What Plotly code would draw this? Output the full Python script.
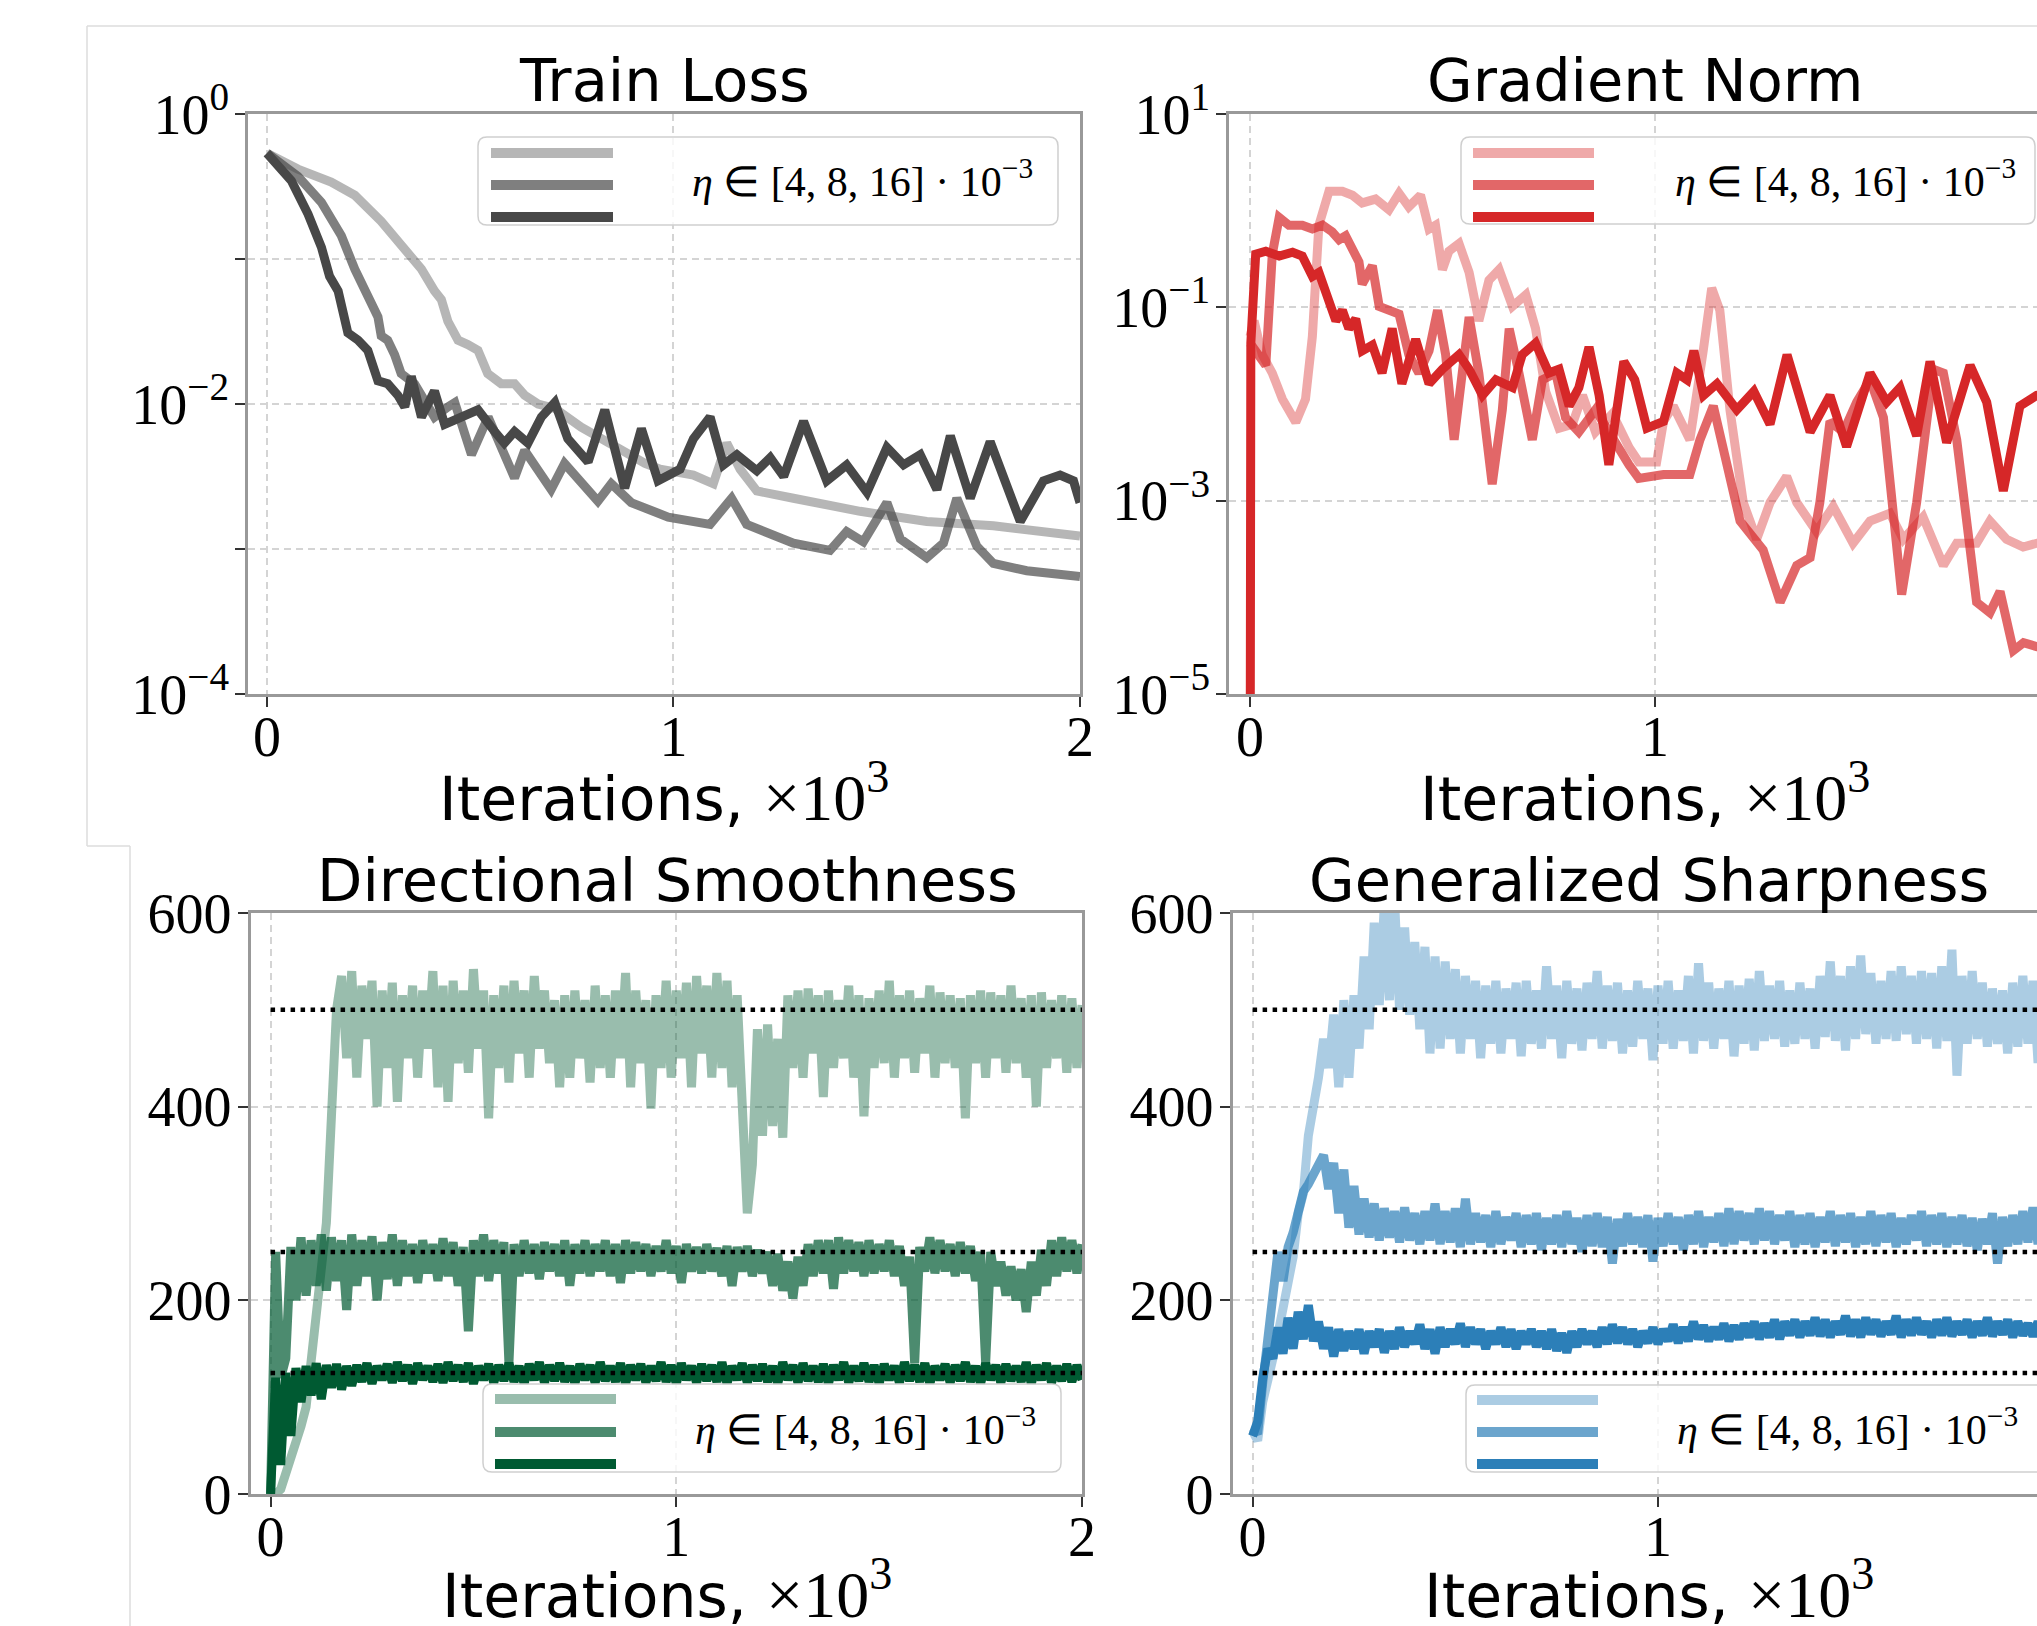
import plotly.graph_objects as go

W, H = 2037, 1626

# ---------------------------------------------------------------- data
ETA_LABEL = "<i>η</i> ∈ [4, 8, 16] · 10<sup>−3</sup>"
TITLES = ["Train Loss", "Gradient Norm", "Directional Smoothness", "Generalized Sharpness"]
X_TICKS = [0, 1, 2]
X_TICK_TEXT = ["0", "1", "2"]

# Train loss (values read as log10 of the loss), x in thousands of iterations
tl_x_eta4 = [0, 0.076, 0.158, 0.216, 0.281, 0.339, 0.380, 0.412, 0.429, 0.445, 0.470, 0.494, 0.519, 0.543,
             0.576, 0.609, 0.634, 0.667, 0.708, 0.773, 0.840, 0.888, 0.930, 0.967, 1.049, 1.098, 1.131, 1.164,
             1.205, 1.295, 1.459, 1.623, 1.787, 2.0]
tl_log_eta4 = [-0.27, -0.38, -0.47, -0.56, -0.74, -0.94, -1.07, -1.22, -1.28, -1.43, -1.56, -1.59, -1.63, -1.79,
               -1.86, -1.86, -1.94, -2.00, -2.03, -2.16, -2.27, -2.35, -2.41, -2.45, -2.49, -2.55, -2.27, -2.45,
               -2.60, -2.65, -2.74, -2.81, -2.84, -2.91]
tl_x_eta8 = [0, 0.076, 0.134, 0.183, 0.216, 0.248, 0.273, 0.281, 0.297, 0.314, 0.330, 0.363, 0.412, 0.445,
             0.462, 0.503, 0.544, 0.609, 0.634, 0.699, 0.732, 0.814, 0.847, 0.896, 0.987, 1.090, 1.143, 1.180,
             1.295, 1.385, 1.426, 1.467, 1.525, 1.558, 1.623, 1.664, 1.697, 1.746, 1.787, 1.869, 2.0]
tl_log_eta8 = [-0.27, -0.43, -0.61, -0.84, -1.07, -1.25, -1.40, -1.53, -1.56, -1.66, -1.79, -1.86, -2.09, -2.02,
               -1.99, -2.35, -2.09, -2.51, -2.32, -2.59, -2.41, -2.67, -2.55, -2.68, -2.78, -2.83, -2.65, -2.83,
               -2.96, -3.01, -2.88, -2.95, -2.68, -2.93, -3.06, -2.96, -2.65, -2.98, -3.10, -3.15, -3.19]
tl_x_eta16 = [0, 0.060, 0.101, 0.134, 0.154, 0.175, 0.199, 0.224, 0.248, 0.273, 0.297, 0.322, 0.339, 0.355,
              0.380, 0.412, 0.437, 0.478, 0.519, 0.560, 0.584, 0.609, 0.642, 0.675, 0.708, 0.740, 0.790, 0.831,
              0.880, 0.921, 0.962, 1.016, 1.049, 1.090, 1.123, 1.156, 1.205, 1.238, 1.271, 1.320, 1.377, 1.426,
              1.476, 1.525, 1.566, 1.607, 1.648, 1.681, 1.730, 1.779, 1.853, 1.910, 1.951, 1.984, 2.0]
tl_log_eta16 = [-0.27, -0.46, -0.69, -0.92, -1.12, -1.22, -1.51, -1.56, -1.63, -1.84, -1.86, -1.94, -2.02, -1.81,
                -2.09, -1.91, -2.14, -2.09, -2.04, -2.19, -2.27, -2.19, -2.27, -2.09, -1.99, -2.24, -2.40, -2.04,
                -2.58, -2.17, -2.53, -2.45, -2.24, -2.09, -2.42, -2.35, -2.46, -2.37, -2.50, -2.12, -2.53, -2.42,
                -2.61, -2.30, -2.42, -2.35, -2.59, -2.22, -2.65, -2.26, -2.81, -2.53, -2.49, -2.53, -2.68]

# Gradient norm (log10 values)
gn_x_eta4 = [0, 0.010, 0.030, 0.055, 0.080, 0.113, 0.137, 0.154, 0.170, 0.195, 0.228, 0.253, 0.277, 0.310,
             0.343, 0.368, 0.392, 0.421, 0.442, 0.458, 0.475, 0.491, 0.516, 0.541, 0.565, 0.590, 0.615, 0.648,
             0.681, 0.705, 0.730, 0.763, 0.796, 0.821, 0.853, 0.895, 0.936, 0.960, 1.004, 1.021, 1.045, 1.086,
             1.119, 1.140, 1.160, 1.185, 1.218, 1.251, 1.284, 1.325, 1.350, 1.399, 1.440, 1.489, 1.531, 1.580,
             1.613, 1.662, 1.712, 1.745, 1.794, 1.827, 1.868, 1.909, 1.943, 2.0]
gn_log_eta4 = [-1.30, -1.14, -1.49, -1.68, -1.95, -2.19, -1.95, -1.30, -0.15, 0.20, 0.20, 0.16, 0.08, 0.12,
               0.01, 0.18, 0.04, 0.16, -0.19, -0.15, -0.61, -0.42, -0.34, -0.64, -1.14, -0.72, -0.61, -0.99,
               -0.87, -1.22, -1.87, -2.25, -2.21, -1.91, -2.29, -2.10, -2.45, -2.60, -2.60, -2.18, -2.02, -2.37,
               -1.45, -0.80, -1.03, -2.06, -3.02, -3.40, -3.02, -2.75, -3.02, -3.32, -3.06, -3.44, -3.21, -3.13,
               -3.40, -3.17, -3.67, -3.44, -3.44, -3.21, -3.40, -3.48, -3.44, -3.45]
gn_x_eta8 = [0, 0.014, 0.039, 0.055, 0.072, 0.096, 0.129, 0.154, 0.179, 0.203, 0.220, 0.236, 0.253, 0.269,
             0.277, 0.302, 0.319, 0.343, 0.368, 0.392, 0.417, 0.442, 0.463, 0.483, 0.504, 0.524, 0.541, 0.565,
             0.598, 0.623, 0.640, 0.664, 0.697, 0.722, 0.755, 0.779, 0.812, 0.853, 0.895, 0.936, 0.960, 1.021,
             1.086, 1.111, 1.144, 1.177, 1.210, 1.267, 1.309, 1.350, 1.383, 1.407, 1.432, 1.465, 1.498, 1.531,
             1.564, 1.609, 1.646, 1.687, 1.712, 1.745, 1.794, 1.827, 1.852, 1.885, 1.910, 1.943, 2.0]
gn_log_eta8 = [-1.37, -1.45, -1.60, -0.45, -0.07, -0.15, -0.15, -0.19, -0.15, -0.22, -0.30, -0.26, -0.42, -0.53,
               -0.76, -0.57, -0.99, -1.03, -1.07, -1.49, -1.68, -1.45, -1.03, -1.49, -2.37, -1.68, -1.10, -1.68,
               -2.83, -2.06, -1.22, -1.68, -2.37, -1.75, -1.68, -2.14, -2.29, -2.06, -2.37, -2.63, -2.77, -2.73,
               -2.73, -2.37, -2.02, -2.67, -3.21, -3.51, -4.05, -3.67, -3.59, -3.02, -2.18, -2.29, -1.98, -1.75,
               -2.14, -3.97, -3.02, -1.64, -1.68, -2.37, -4.05, -4.16, -3.94, -4.55, -4.47, -4.51, -4.50]
gn_x_eta16 = [0, 0.002, 0.014, 0.039, 0.072, 0.105, 0.129, 0.154, 0.170, 0.195, 0.212, 0.228, 0.244, 0.261,
              0.277, 0.302, 0.326, 0.351, 0.375, 0.409, 0.442, 0.475, 0.516, 0.541, 0.574, 0.607, 0.648, 0.672,
              0.705, 0.738, 0.763, 0.788, 0.812, 0.837, 0.862, 0.886, 0.923, 0.950, 0.980, 1.021, 1.054, 1.079,
              1.096, 1.120, 1.153, 1.202, 1.244, 1.284, 1.326, 1.383, 1.432, 1.473, 1.531, 1.572, 1.605, 1.646,
              1.679, 1.720, 1.778, 1.819, 1.860, 1.901, 1.943, 2.0]
gn_log_eta16 = [-7.0, -1.37, -0.45, -0.42, -0.47, -0.43, -0.47, -0.68, -0.64, -0.95, -1.14, -1.03, -1.22, -1.12,
                -1.45, -1.39, -1.68, -1.22, -1.79, -1.33, -1.79, -1.64, -1.49, -1.64, -1.91, -1.75, -1.83, -1.49,
                -1.37, -1.68, -1.64, -2.02, -1.83, -1.41, -1.91, -2.63, -1.56, -1.75, -2.25, -2.18, -1.68, -1.75,
                -1.45, -1.91, -1.79, -2.06, -1.87, -2.21, -1.49, -2.29, -1.91, -2.44, -1.68, -1.98, -1.83, -2.33,
                -1.56, -2.40, -1.60, -1.98, -2.90, -2.02, -1.91, -1.85]

# Noisy curves sampled every 12.5 iterations (0.0125 x 10^3), 161 samples
STEP = 0.0125
ds_eta4 = [0, 0, 5, 20, 35, 50, 70, 90, 135, 175,
           220, 280, 390, 500, 535, 450, 540, 430, 525, 470,
           530, 400, 520, 440, 528, 405, 515, 450, 525, 430,
           520, 460, 540, 420, 525, 405, 530, 445, 520, 435,
           542, 460, 520, 388, 515, 440, 525, 425, 530, 455,
           520, 430, 535, 460, 520, 445, 510, 420, 515, 430,
           520, 450, 510, 425, 525, 440, 515, 430, 520, 450,
           538, 420, 520, 445, 510, 398, 515, 440, 530, 430,
           520, 450, 528, 420, 535, 455, 525, 430, 538, 440,
           530, 420, 515, 380, 290, 340, 480, 370, 485, 380,
           470, 368, 515, 440, 520, 430, 522, 455, 515, 410,
           520, 440, 510, 450, 525, 430, 515, 390, 512, 440,
           520, 445, 530, 430, 515, 450, 520, 435, 512, 455,
           525, 430, 518, 445, 515, 440, 512, 388, 515, 445,
           520, 430, 518, 450, 515, 435, 525, 445, 512, 430,
           515, 400, 518, 440, 510, 450, 515, 435, 512, 440,
           505]
ds_eta8 = [0, 250, 120, 140, 255, 200, 265, 205, 262, 215,
           268, 210, 265, 220, 262, 190, 268, 215, 262, 225,
           266, 200, 260, 222, 268, 215, 262, 225, 258, 218,
           262, 228, 258, 220, 264, 225, 260, 215, 255, 168,
           262, 225, 268, 220, 262, 228, 260, 135, 258, 225,
           262, 228, 258, 222, 260, 230, 258, 225, 262, 215,
           258, 228, 262, 225, 258, 230, 262, 225, 258, 218,
           262, 228, 260, 230, 258, 225, 256, 230, 262, 228,
           256, 218, 258, 230, 255, 228, 258, 230, 254, 225,
           256, 215, 255, 230, 256, 225, 252, 228, 250, 215,
           248, 210, 240, 202, 245, 215, 258, 225, 262, 228,
           262, 212, 265, 228, 262, 230, 260, 225, 262, 228,
           258, 230, 262, 225, 256, 215, 245, 135, 255, 230,
           265, 228, 262, 230, 258, 225, 260, 228, 256, 220,
           250, 135, 250, 215, 240, 205, 235, 200, 232, 188,
           240, 205, 252, 215, 262, 225, 265, 230, 262, 228,
           258]
ds_eta16 = [0, 120, 30, 125, 60, 130, 95, 132, 102, 135,
            98, 133, 110, 134, 108, 132, 112, 133, 116, 135,
            114, 132, 118, 134, 115, 136, 117, 133, 114, 135,
            118, 132, 116, 134, 115, 136, 117, 133, 116, 135,
            114, 132, 118, 134, 115, 133, 117, 135, 116, 132,
            114, 134, 118, 136, 115, 133, 117, 135, 116, 132,
            114, 134, 118, 133, 115, 136, 117, 132, 116, 135,
            114, 133, 118, 134, 115, 132, 117, 136, 116, 133,
            114, 135, 118, 132, 115, 134, 117, 133, 116, 136,
            114, 132, 118, 135, 115, 133, 117, 134, 116, 132,
            114, 136, 118, 133, 115, 135, 117, 132, 116, 134,
            114, 133, 118, 136, 115, 132, 117, 135, 116, 133,
            114, 134, 118, 132, 115, 136, 117, 133, 116, 135,
            114, 132, 118, 134, 115, 133, 117, 136, 116, 132,
            114, 135, 118, 133, 115, 134, 117, 132, 116, 136,
            114, 133, 118, 135, 115, 132, 117, 134, 116, 133,
            118]
gs_eta4 = [65, 55, 95, 115, 140, 165, 195, 225, 245, 290,
           310, 370, 395, 430, 470, 440, 495, 420, 510, 430,
           515, 460, 555, 480, 590, 505, 610, 510, 615, 500,
           585, 495, 570, 480, 565, 455, 555, 460, 550, 470,
           542, 455, 535, 470, 530, 450, 525, 465, 530, 455,
           522, 470, 528, 452, 530, 465, 520, 460, 545, 470,
           525, 450, 530, 465, 522, 458, 528, 470, 540, 460,
           525, 468, 528, 455, 520, 462, 530, 470, 522, 448,
           525, 465, 530, 460, 520, 468, 535, 455, 548, 468,
           528, 460, 522, 470, 530, 452, 525, 465, 532, 458,
           540, 468, 525, 470, 530, 462, 520, 465, 528, 470,
           522, 460, 535, 472, 550, 468, 535, 458, 545, 470,
           556, 475, 538, 465, 530, 470, 540, 468, 545, 475,
           535, 465, 540, 470, 538, 460, 545, 468, 562, 432,
           535, 465, 540, 470, 528, 462, 522, 465, 520, 455,
           528, 462, 535, 465, 530, 445, 525, 465, 530, 460,
           528]
gs_eta8 = [68, 62, 115, 160, 215, 250, 220, 255, 270, 290,
           312, 320, 330, 342, 350, 315, 342, 290, 335, 275,
           318, 268, 305, 265, 300, 262, 295, 265, 292, 260,
           296, 262, 290, 258, 292, 262, 300, 258, 292, 260,
           295, 255, 305, 258, 290, 260, 288, 255, 292, 258,
           286, 262, 290, 255, 288, 258, 290, 252, 285, 258,
           288, 255, 292, 258, 285, 250, 288, 256, 290, 255,
           286, 238, 284, 256, 290, 258, 286, 255, 288, 240,
           285, 256, 290, 258, 286, 252, 288, 258, 292, 255,
           286, 260, 290, 256, 295, 258, 292, 262, 290, 258,
           295, 262, 292, 258, 288, 262, 292, 255, 288, 258,
           290, 255, 286, 260, 292, 256, 288, 260, 290, 255,
           286, 258, 292, 256, 288, 260, 290, 255, 285, 258,
           288, 262, 292, 256, 288, 258, 290, 255, 286, 258,
           288, 256, 285, 252, 284, 258, 290, 238, 286, 256,
           288, 258, 292, 260, 296, 258, 290, 262, 288, 258,
           290]
gs_eta16 = [60, 75, 120, 150, 140, 172, 145, 182, 150, 188,
            160, 195, 158, 178, 150, 172, 142, 170, 148, 168,
            150, 170, 145, 168, 152, 170, 146, 168, 150, 172,
            152, 168, 155, 175, 150, 170, 145, 172, 152, 170,
            155, 176, 152, 172, 155, 170, 150, 168, 155, 172,
            152, 170, 150, 168, 155, 170, 152, 168, 150, 170,
            148, 166, 146, 168, 152, 170, 155, 168, 152, 172,
            155, 175, 156, 172, 155, 170, 152, 168, 156, 172,
            155, 170, 158, 175, 156, 172, 158, 178, 160, 174,
            158, 172, 160, 176, 158, 174, 160, 176, 162, 178,
            160, 176, 162, 180, 160, 178, 164, 180, 162, 178,
            164, 182, 163, 180, 162, 178, 165, 184, 163, 180,
            162, 182, 165, 180, 163, 178, 165, 184, 162, 180,
            164, 182, 165, 178, 162, 180, 164, 182, 163, 178,
            165, 180, 162, 178, 164, 182, 163, 178, 165, 180,
            162, 178, 164, 176, 163, 178, 162, 176, 164, 178,
            165]
# stability thresholds 2/eta
THRESHOLDS = [500, 250, 125]

# ---------------------------------------------------------------- helpers
def pxx(v):
    return v / W


def pxy(v):
    return 1 - v / H


def rgba(c, a):
    return f"rgba({c[0]},{c[1]},{c[2]},{a})"


GRAY = (72, 72, 72)
RED = (214, 39, 40)
GREEN = (0, 90, 50)
BLUE = (44, 127, 184)
ALPHAS = [0.4, 0.7, 1.0]

SERIF = "Liberation Serif, Times New Roman, serif"
SANS = "DejaVu Sans, sans-serif"
SPINE = "#999999"
TICKC = "#333333"
GRID = "#d4d4d4"

fig = go.Figure()


def add_line(x, y, color, xa, ya, width):
    fig.add_trace(go.Scatter(x=x, y=y, mode="lines", line=dict(color=color, width=width),
                             xaxis=xa, yaxis=ya, showlegend=False, hoverinfo="skip"))


# Train loss
for xs, ls, a in [(tl_x_eta4, tl_log_eta4, ALPHAS[0]), (tl_x_eta8, tl_log_eta8, ALPHAS[1]),
                  (tl_x_eta16, tl_log_eta16, ALPHAS[2])]:
    add_line(xs, [10 ** v for v in ls], rgba(GRAY, a), "x", "y", 9)

# Gradient norm
for xs, ls, a in [(gn_x_eta4, gn_log_eta4, ALPHAS[0]), (gn_x_eta8, gn_log_eta8, ALPHAS[1]),
                  (gn_x_eta16, gn_log_eta16, ALPHAS[2])]:
    add_line(xs, [10 ** v for v in ls], rgba(RED, a), "x2", "y2", 9)

DOT = dict(color="black", width=4.5, dash="4.5px,5.5px")

# Directional smoothness
for vals, a in [(ds_eta4, ALPHAS[0]), (ds_eta8, ALPHAS[1]), (ds_eta16, ALPHAS[2])]:
    add_line([i * STEP for i in range(len(vals))], vals, rgba(GREEN, a), "x3", "y3", 9)
for t in THRESHOLDS:
    fig.add_trace(go.Scatter(x=[0, 2], y=[t, t], mode="lines", xaxis="x3", yaxis="y3", line=DOT,
                             showlegend=False, hoverinfo="skip"))

# Generalized sharpness
for vals, a in [(gs_eta4, ALPHAS[0]), (gs_eta8, ALPHAS[1]), (gs_eta16, ALPHAS[2])]:
    add_line([i * STEP for i in range(len(vals))], vals, rgba(BLUE, a), "x4", "y4", 9)
for t in THRESHOLDS:
    fig.add_trace(go.Scatter(x=[0, 2], y=[t, t], mode="lines", xaxis="x4", yaxis="y4", line=DOT,
                             showlegend=False, hoverinfo="skip"))

# ---------------------------------------------------------------- axes
TICK_FONT = dict(family=SERIF, size=56, color="black")
GRID_KW = dict(showgrid=True, gridcolor=GRID, gridwidth=1.5, griddash="7px,5px")


def xcfg(dom_px, rng, anchor):
    return dict(domain=[pxx(dom_px[0]), min(1.0, pxx(dom_px[1]))], range=rng, anchor=anchor,
                tickvals=X_TICKS, ticktext=X_TICK_TEXT, showline=True, linecolor=SPINE, linewidth=2.5,
                mirror=True, ticks="outside", ticklen=10, tickwidth=2, tickcolor=TICKC,
                zeroline=False, tickfont=TICK_FONT, fixedrange=True, automargin=False,
                ticklabelstandoff=-18, **GRID_KW)


def ycfg(dom_px, rng, anchor, mirror, tickvals, ticktext, log=False, minor_vals=None):
    d = dict(domain=[pxy(dom_px[1]), pxy(dom_px[0])], range=rng, anchor=anchor,
             tickvals=tickvals, ticktext=ticktext, showline=True, linecolor=SPINE, linewidth=2.5,
             mirror=mirror, ticks="outside", ticklen=10, tickwidth=2, tickcolor=TICKC,
             zeroline=False, tickfont=TICK_FONT, fixedrange=True, automargin=False,
             ticklabelstandoff=-5, **GRID_KW)
    if log:
        d["type"] = "log"
    if minor_vals:
        d["minor"] = dict(tickvals=minor_vals, ticks="outside", ticklen=10, tickwidth=2, tickcolor=TICKC,
                          **GRID_KW)
    return d


TL_TICKS = [1, 0.01, 0.0001]
TL_TEXT = ["10<sup>0</sup>", "10<sup>−2</sup>", "10<sup>−4</sup>"]
TL_MINOR = [0.1, 0.001]
GN_TICKS = [10, 0.1, 0.001, 0.00001]
GN_TEXT = ["10<sup>1</sup>", "10<sup>−1</sup>", "10<sup>−3</sup>", "10<sup>−5</sup>"]
LIN_TICKS = [0, 200, 400, 600]
LIN_TEXT = ["0", "200", "400", "600"]

fig.update_layout(
    xaxis=xcfg((248, 1080), [-0.0467, 2.0], "y"),
    yaxis=ycfg((114, 694), [-4, 0], "x", True, TL_TICKS, TL_TEXT, log=True, minor_vals=TL_MINOR),
    xaxis2=xcfg((1229, 2037), [-0.0519, 1.9432], "y2"),
    yaxis2=ycfg((114, 694), [-5, 1], "x2", False, GN_TICKS, GN_TEXT, log=True),
    xaxis3=xcfg((250.5, 1082), [-0.0495, 2.0], "y3"),
    yaxis3=ycfg((913, 1494), [0, 600], "x3", True, LIN_TICKS, LIN_TEXT),
    xaxis4=xcfg((1232.5, 2037), [-0.0496, 1.9349], "y4"),
    yaxis4=ycfg((913, 1494), [0, 600], "x4", False, LIN_TICKS, LIN_TEXT),
)

# ---------------------------------------------------------------- decorations
shapes = []
for (x0, y0, x1, y1) in [(87, 26, 2037, 26), (87, 26, 87, 846), (87, 846, 130, 846), (130, 846, 130, 1626)]:
    shapes.append(dict(type="line", xref="paper", yref="paper", x0=pxx(x0), y0=pxy(y0), x1=pxx(x1), y1=pxy(y1),
                       line=dict(color="#dcdcdc", width=1.5), layer="above"))


def rrect(x0, y0, x1, y1, r):
    def P(a, b):
        return f"{pxx(a):.6f},{pxy(b):.6f}"
    return (f"M {P(x0 + r, y0)} L {P(x1 - r, y0)} Q {P(x1, y0)} {P(x1, y0 + r)} "
            f"L {P(x1, y1 - r)} Q {P(x1, y1)} {P(x1 - r, y1)} L {P(x0 + r, y1)} "
            f"Q {P(x0, y1)} {P(x0, y1 - r)} L {P(x0, y0 + r)} Q {P(x0, y0)} {P(x0 + r, y0)} Z")


LEGENDS = [
    dict(box=(478, 137, 1058, 225), lx=(491, 613), ly=(153, 185, 217), tc=(862, 179), col=GRAY),
    dict(box=(1461, 137, 2035, 224), lx=(1473, 1594), ly=(153, 185, 217), tc=(1845, 179), col=RED),
    dict(box=(483, 1384, 1061, 1472), lx=(495, 616), ly=(1399, 1432, 1464), tc=(865, 1426), col=GREEN),
    dict(box=(1466, 1385, 2050, 1472), lx=(1477, 1598), ly=(1400, 1432, 1464), tc=(1847, 1426), col=BLUE),
]
annotations = []
for lg in LEGENDS:
    x0, y0, x1, y1 = lg["box"]
    shapes.append(dict(type="path", xref="paper", yref="paper", path=rrect(x0, y0, x1, y1, 9),
                       fillcolor="rgba(255,255,255,0.8)", line=dict(color="#cfcfcf", width=1.5), layer="above"))
    for yy, a in zip(lg["ly"], ALPHAS):
        shapes.append(dict(type="line", xref="paper", yref="paper", x0=pxx(lg["lx"][0]), x1=pxx(lg["lx"][1]),
                           y0=pxy(yy), y1=pxy(yy), line=dict(color=rgba(lg["col"], a), width=10), layer="above"))
    annotations.append(dict(text=ETA_LABEL, xref="paper", yref="paper", x=pxx(lg["tc"][0]), y=pxy(lg["tc"][1]),
                            xanchor="center", yanchor="middle", showarrow=False,
                            font=dict(family=SERIF, size=42, color="black")))

TITLE_POS = [(664, 81), (1645, 81), (667, 880), (1649, 880)]
for t, (cx, cy) in zip(TITLES, TITLE_POS):
    annotations.append(dict(text=t, xref="paper", yref="paper", x=pxx(cx), y=pxy(cy), xanchor="center",
                            yanchor="middle", showarrow=False, font=dict(family=SANS, size=59, color="black")))

XLABEL = ("Iterations, <span style='font-family:Liberation Serif, serif;font-size:66px'>×10<sup>3</sup></span>")
for cx, cy in [(664, 792), (1645, 792), (667, 1589), (1649, 1589)]:
    annotations.append(dict(text=XLABEL, xref="paper", yref="paper", x=pxx(cx), y=pxy(cy), xanchor="center",
                            yanchor="middle", showarrow=False, font=dict(family=SANS, size=60, color="black")))

fig.update_layout(
    width=W, height=H, autosize=False,
    margin=dict(l=0, r=0, t=0, b=0, pad=0, autoexpand=False),
    paper_bgcolor="white", plot_bgcolor="white",
    shapes=shapes, annotations=annotations, showlegend=False,
)

fig.write_html("out.html", config={"displayModeBar": False, "responsive": False})
